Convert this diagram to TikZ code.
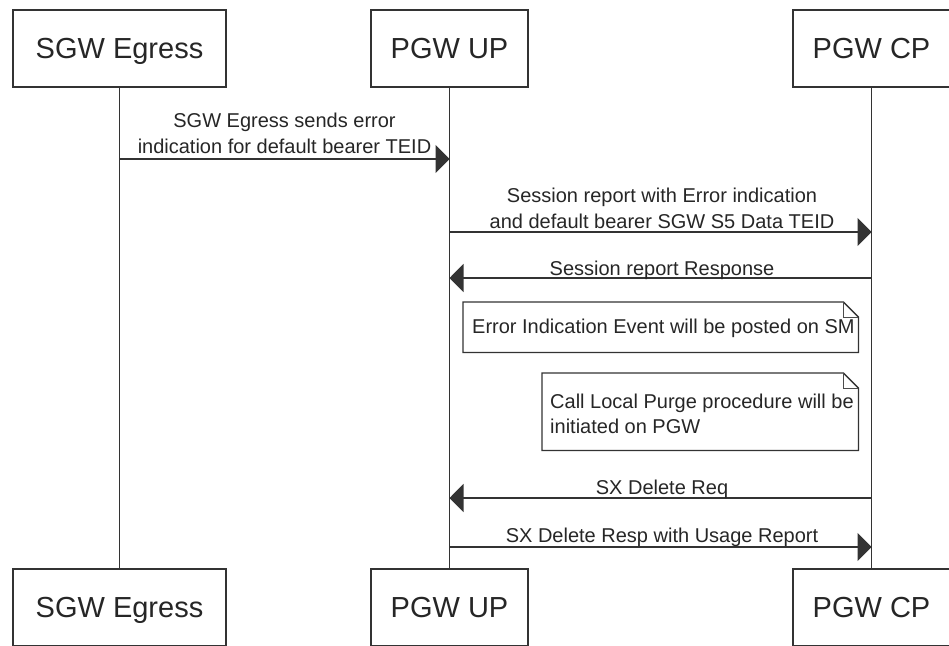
\documentclass[tikz,border=0pt]{standalone}
\usepackage{fontspec}
\setmainfont{Liberation Sans}
\usetikzlibrary{arrows.meta,calc}
\begin{document}
\begin{tikzpicture}[x=1pt,y=-1pt,
  actor/.style={draw=black!80, line width=1.6pt, fill=white, minimum width=#1, minimum height=77pt, inner sep=0pt, font=\fontsize{29}{34}\selectfont, text=black!85, text height=20.5pt, text depth=0pt},
  life/.style={draw=black!80, line width=1.3pt},
  msg/.style={draw=black!80, line width=1.3pt, -{Triangle[length=14pt,width=28pt]}},
  lbl/.style={font=\fontsize{20}{25.5}\selectfont, text=black!85, align=center, inner sep=0pt, anchor=base},
  notetxt/.style={font=\fontsize{20}{25}\selectfont, text=black!85, align=left, inner sep=0pt, anchor=base west},
  notebox/.style={minimum width=#1, inner sep=0pt, anchor=north west},
  noteline/.style={draw=black!80, line width=1.3pt, line join=miter},
  foldline/.style={draw=black!70, line width=0.8pt}
]
\useasboundingbox (0,0) rectangle (949,645);

% actors
\node[actor=213pt] (sgwT) at (119.5,48.5) {SGW Egress};
\node[actor=157pt] (upT)  at (449.5,48.5) {PGW UP};
\node[actor=157pt] (cpT)  at (871.5,48.5) {PGW CP};
\node[actor=213pt] (sgwB) at (119.5,607.5) {SGW Egress};
\node[actor=157pt] (upB)  at (449.5,607.5) {PGW UP};
\node[actor=157pt] (cpB)  at (871.5,607.5) {PGW CP};

% lifelines
\draw[life] (sgwT.south) -- (sgwB.north);
\draw[life] (upT.south) -- (upB.north);
\draw[life] (cpT.south) -- (cpB.north);

% message end points
\coordinate (m1a) at (sgwT.south |- 0,159);
\coordinate (m1b) at (upT.south |- 0,159);
\coordinate (m2a) at (upT.south |- 0,232);
\coordinate (m2b) at (cpT.south |- 0,232);
\coordinate (m3a) at (cpT.south |- 0,278);
\coordinate (m3b) at (upT.south |- 0,278);
\coordinate (m4a) at (cpT.south |- 0,498);
\coordinate (m4b) at (upT.south |- 0,498);
\coordinate (m5a) at (upT.south |- 0,547);
\coordinate (m5b) at (cpT.south |- 0,547);

% messages
\draw[msg] (m1a) -- (m1b);
\node[lbl] (l1) at (284.5,153) {SGW Egress sends error\\indication for default bearer TEID};
\draw[msg] (m2a) -- (m2b);
\node[lbl] (l2) at (662,228) {Session report with Error indication\\and default bearer SGW S5 Data TEID};
\draw[msg] (m3a) -- (m3b);
\node[lbl] (l3) at (662,275) {Session report Response};
\draw[msg] (m4a) -- (m4b);
\node[lbl] (l4) at (662,494) {SX Delete Req};
\draw[msg] (m5a) -- (m5b);
\node[lbl] (l5) at (662,542) {SX Delete Resp with Usage Report};

% note 1
\node[notebox=395pt, minimum height=50pt] (note1) at (463,302) {};
\draw[noteline] (note1.north west) -- ([xshift=-15pt]note1.north east) -- ([yshift=-15pt]note1.north east) -- (note1.south east) -- (note1.south west) -- cycle;
\draw[foldline] ([xshift=-15pt]note1.north east) -- ([xshift=-15pt,yshift=-15pt]note1.north east) -- ([yshift=-15pt]note1.north east);
\node[notetxt] (note1t) at (472,333) {Error Indication Event will be posted on SM};

% note 2
\node[notebox=316pt, minimum height=77pt] (note2) at (542,373) {};
\draw[noteline] (note2.north west) -- ([xshift=-15pt]note2.north east) -- ([yshift=-15pt]note2.north east) -- (note2.south east) -- (note2.south west) -- cycle;
\draw[foldline] ([xshift=-15pt]note2.north east) -- ([xshift=-15pt,yshift=-15pt]note2.north east) -- ([yshift=-15pt]note2.north east);
\node[notetxt] (note2t) at (550,433) {Call Local Purge procedure will be\\initiated on PGW};
\end{tikzpicture}
\end{document}
